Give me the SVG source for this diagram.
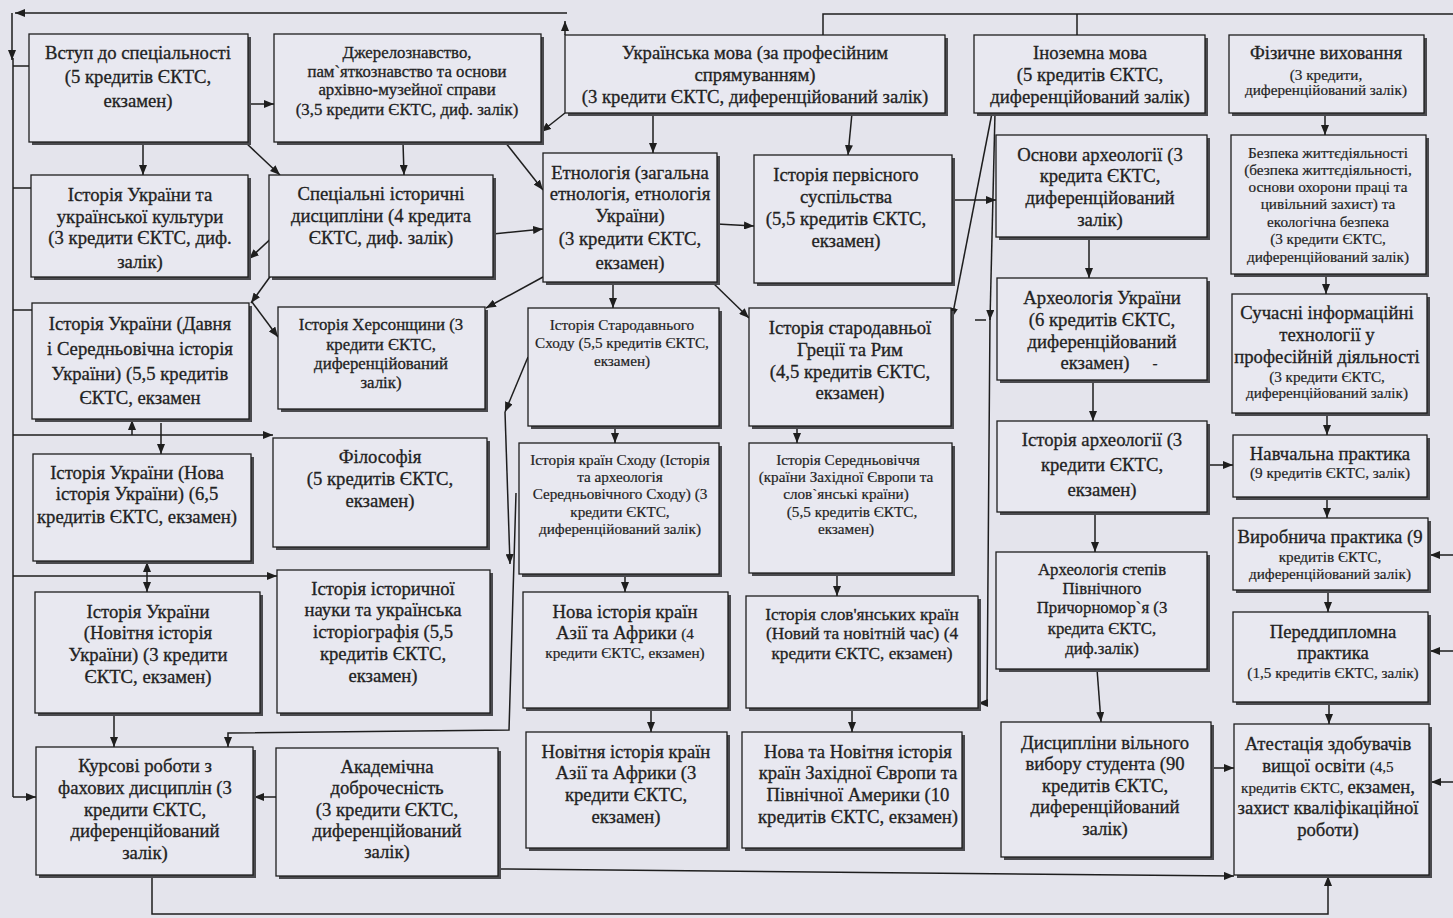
<svg xmlns="http://www.w3.org/2000/svg" width="1453" height="918" viewBox="0 0 1453 918">
<style>
.bg{fill:#e4e4ec}
.sh{fill:#4a4a4e}
.bx{fill:#e8e8f0;stroke:#1e1e1e;stroke-width:1.3}
text{font-family:"Liberation Serif","Times New Roman",serif;fill:#222;stroke:#222;stroke-width:0.3;text-anchor:middle}
.L{font-size:18.7px}
.M{font-size:16.8px}
.M2{font-size:17.3px}
.S{font-size:15.2px;stroke-width:0.2}
.c{fill:none;stroke:#1e1e1e;stroke-width:1.5}
</style>
<defs>
<marker id="a" markerUnits="userSpaceOnUse" markerWidth="10" markerHeight="8" refX="10" refY="4" orient="auto"><path d="M0,0 L10,4 L0,8 z" fill="#1e1e1e"/></marker>
<marker id="as" markerUnits="userSpaceOnUse" markerWidth="10" markerHeight="8" refX="0" refY="4" orient="auto"><path d="M10,0 L0,4 L10,8 z" fill="#1e1e1e"/></marker>
</defs>
<rect class="bg" x="0" y="0" width="1453" height="918"/>

<g id="connectors">
<path class="c" d="M565,35 L565,21" marker-end="url(#a)"/>
<path class="c" d="M567,13 L15,13" marker-end="url(#a)"/>
<path class="c" d="M12,13 L12,60" marker-end="url(#a)"/>
<path class="c" d="M13,58 L13,797"/>
<path class="c" d="M13,66 L29,66"/>
<path class="c" d="M13,188 L31,188"/>
<path class="c" d="M13,310 L32,310"/>
<path class="c" d="M13,435 L273,435" marker-end="url(#a)"/>
<path class="c" d="M13,576 L277,576" marker-end="url(#a)"/>
<path class="c" d="M13,797 L36,797" marker-end="url(#a)"/>
<path class="c" d="M132,435 L132,420" marker-end="url(#a)"/>
<path class="c" d="M161,423 L161,454" marker-end="url(#a)"/>
<path class="c" d="M147,562 L147,592" marker-start="url(#as)" marker-end="url(#a)"/>
<path class="c" d="M248,104 L274,104" marker-end="url(#a)"/>
<path class="c" d="M143,142 L143,175" marker-end="url(#a)"/>
<path class="c" d="M245,142 L280,175" marker-end="url(#a)"/>
<path class="c" d="M408,114 L408,132" marker-end="url(#a)"/>
<path class="c" d="M403,142 L404,175" marker-end="url(#a)"/>
<path class="c" d="M277,233 L249,259" marker-end="url(#a)"/>
<path class="c" d="M272,274 L251,303" marker-end="url(#a)"/>
<path class="c" d="M252,302 L278,337" marker-end="url(#a)"/>
<path class="c" d="M565,113 L541,132" marker-end="url(#a)"/>
<path class="c" d="M505,142 L543,190" marker-end="url(#a)"/>
<path class="c" d="M493,234 L543,229" marker-end="url(#a)"/>
<path class="c" d="M653,113 L653,153" marker-end="url(#a)"/>
<path class="c" d="M852,113 L848,155" marker-end="url(#a)"/>
<path class="c" d="M717,224 L754,226" marker-end="url(#a)"/>
<path class="c" d="M543,277 L486,308" marker-end="url(#a)"/>
<path class="c" d="M613,282 L613,308" marker-end="url(#a)"/>
<path class="c" d="M712,282 L749,318" marker-end="url(#a)"/>
<path class="c" d="M952,200 L996,200" marker-end="url(#a)"/>
<path class="c" d="M992,113 L952,318" marker-end="url(#a)"/>
<path class="c" d="M995,113 L990,320" marker-end="url(#a)"/>
<path class="c" d="M975,320 L986,320"/>
<path class="c" d="M990,318 L987,703 L978,703" marker-end="url(#a)"/>
<path class="c" d="M615,426 L615,443" marker-end="url(#a)"/>
<path class="c" d="M625,574 L625,592" marker-end="url(#a)"/>
<path class="c" d="M651,708 L651,732" marker-end="url(#a)"/>
<path class="c" d="M797,424 L797,443" marker-end="url(#a)"/>
<path class="c" d="M837,573 L837,596" marker-end="url(#a)"/>
<path class="c" d="M852,708 L852,732" marker-end="url(#a)"/>
<path class="c" d="M528,357 L505,412" marker-end="url(#a)"/>
<path class="c" d="M505,412 L510,564" marker-end="url(#a)"/>
<path class="c" d="M516,493 L509,730 L228,733 L228,747" marker-end="url(#a)"/>
<path class="c" d="M1089,237 L1089,278" marker-end="url(#a)"/>
<path class="c" d="M1093,380 L1093,421" marker-end="url(#a)"/>
<path class="c" d="M1095,512 L1095,552" marker-end="url(#a)"/>
<path class="c" d="M1097,669 L1101,722" marker-end="url(#a)"/>
<path class="c" d="M1207,465 L1233,465" marker-end="url(#a)"/>
<path class="c" d="M1211,768 L1234,768" marker-end="url(#a)"/>
<path class="c" d="M1325,113 L1325,135" marker-end="url(#a)"/>
<path class="c" d="M1326,274 L1326,294" marker-end="url(#a)"/>
<path class="c" d="M1327,413 L1327,435" marker-end="url(#a)"/>
<path class="c" d="M1327,497 L1327,518" marker-end="url(#a)"/>
<path class="c" d="M1328,590 L1328,612" marker-end="url(#a)"/>
<path class="c" d="M1329,702 L1329,724" marker-end="url(#a)"/>
<path class="c" d="M1453,555 L1430,555" marker-end="url(#a)"/>
<path class="c" d="M1453,651 L1430,651" marker-end="url(#a)"/>
<path class="c" d="M1453,782 L1431,782" marker-end="url(#a)"/>
<path class="c" d="M823,35 L823,14 L1453,14"/>
<path class="c" d="M1077,14 L1077,35"/>
<path class="c" d="M498,869 L1234,876" marker-end="url(#a)"/>
<path class="c" d="M152,875 L152,914 L1328,914 L1328,876" marker-end="url(#a)"/>
<path class="c" d="M114,713 L114,747" marker-end="url(#a)"/>
<path class="c" d="M276,797 L254,797" marker-end="url(#a)"/>
</g>

<g id="n-vstup"><rect class="sh" x="32" y="37" width="219" height="108"/><rect class="bx" x="29" y="34" width="219" height="108"/>
<text class="L" x="138" y="59">Вступ до спеціальності</text><text class="L" x="138" y="83">(5 кредитів ЄКТС,</text><text class="L" x="138" y="107">екзамен)</text></g>

<g id="n-dzhere"><rect class="sh" x="277" y="37" width="267" height="108"/><rect class="bx" x="274" y="34" width="267" height="108"/>
<text class="M" x="407" y="58">Джерелознавство,</text><text class="M" x="407" y="77">пам`яткознавство та основи</text><text class="M" x="407" y="95">архівно-музейної справи</text><text class="M" x="407" y="115">(3,5 кредити ЄКТС, диф. залік)</text></g>

<g id="n-ukrmova"><rect class="sh" x="568" y="38" width="380" height="78"/><rect class="bx" x="565" y="35" width="380" height="78"/>
<text class="L" x="755" y="59">Українська мова (за професійним</text><text class="L" x="755" y="81">спрямуванням)</text><text class="L" x="755" y="103">(3 кредити ЄКТС, диференційований залік)</text></g>

<g id="n-inozem"><rect class="sh" x="977" y="38" width="231" height="78"/><rect class="bx" x="974" y="35" width="231" height="78"/>
<text class="L" x="1090" y="59">Іноземна мова</text><text class="L" x="1090" y="81">(5 кредитів ЄКТС,</text><text class="L" x="1090" y="103">диференційований залік)</text></g>

<g id="n-fiz"><rect class="sh" x="1232" y="38" width="195" height="78"/><rect class="bx" x="1229" y="35" width="195" height="78"/>
<text class="L" x="1326" y="59">Фізичне виховання</text><text class="S" x="1326" y="80">(3 кредити,</text><text class="S" x="1326" y="95">диференційований залік)</text></g>

<g id="n-iukk"><rect class="sh" x="34" y="178" width="217" height="102"/><rect class="bx" x="31" y="175" width="217" height="102"/>
<text class="L" x="140" y="201">Історія України та</text><text class="L" x="140" y="223">української культури</text><text class="L" x="140" y="244">(3 кредити ЄКТС, диф.</text><text class="L" x="140" y="268">залік)</text></g>

<g id="n-spec"><rect class="sh" x="272" y="178" width="224" height="102"/><rect class="bx" x="269" y="175" width="224" height="102"/>
<text class="L" x="381" y="200">Спеціальні історичні</text><text class="L" x="381" y="222">дисципліни (4 кредита</text><text class="L" x="381" y="244">ЄКТС, диф. залік)</text></g>

<g id="n-etno"><rect class="sh" x="546" y="156" width="174" height="129"/><rect class="bx" x="543" y="153" width="174" height="129"/>
<text class="L" x="630" y="179">Етнологія (загальна</text><text class="L" x="630" y="200">етнологія, етнологія</text><text class="L" x="630" y="222">України)</text><text class="L" x="630" y="245">(3 кредити ЄКТС,</text><text class="L" x="630" y="269">екзамен)</text></g>

<g id="n-perv"><rect class="sh" x="757" y="158" width="198" height="128"/><rect class="bx" x="754" y="155" width="198" height="128"/>
<text class="L" x="846" y="181">Історія первісного</text><text class="L" x="846" y="203">суспільства</text><text class="L" x="846" y="225">(5,5 кредитів ЄКТС,</text><text class="L" x="846" y="247">екзамен)</text></g>

<g id="n-osnarh"><rect class="sh" x="999" y="138" width="211" height="102"/><rect class="bx" x="996" y="135" width="211" height="102"/>
<text class="L" x="1100" y="161">Основи археології (3</text><text class="L" x="1100" y="182">кредита ЄКТС,</text><text class="L" x="1100" y="204">диференційований</text><text class="L" x="1100" y="226">залік)</text></g>

<g id="n-bezp"><rect class="sh" x="1234" y="138" width="195" height="139"/><rect class="bx" x="1231" y="135" width="195" height="139"/>
<text class="S" x="1328" y="158">Безпека життєдіяльності</text><text class="S" x="1328" y="175">(безпека життєдіяльності,</text><text class="S" x="1328" y="192">основи охорони праці та</text><text class="S" x="1328" y="209">цивільний захист) та</text><text class="S" x="1328" y="227">екологічна безпека</text><text class="S" x="1328" y="244">(3 кредити ЄКТС,</text><text class="S" x="1328" y="262">диференційований залік)</text></g>

<g id="n-davnia"><rect class="sh" x="35" y="306" width="217" height="116"/><rect class="bx" x="32" y="303" width="217" height="116"/>
<text class="L" x="140" y="330">Історія України (Давня</text><text class="L" x="140" y="355">і Середньовічна історія</text><text class="L" x="140" y="380">України)  (5,5 кредитів</text><text class="L" x="140" y="404">ЄКТС, екзамен</text></g>

<g id="n-kherson"><rect class="sh" x="281" y="310" width="207" height="102"/><rect class="bx" x="278" y="307" width="207" height="102"/>
<text class="M" x="381" y="330">Історія Херсонщини (3</text><text class="M" x="381" y="350">кредити ЄКТС,</text><text class="M" x="381" y="369">диференційований</text><text class="M" x="381" y="388">залік)</text></g>

<g id="n-starsh"><rect class="sh" x="531" y="311" width="191" height="118"/><rect class="bx" x="528" y="308" width="191" height="118"/>
<text class="S" x="622" y="330">Історія Стародавнього</text><text class="S" x="622" y="348">Сходу (5,5 кредитів ЄКТС,</text><text class="S" x="622" y="366">екзамен)</text></g>

<g id="n-grec"><rect class="sh" x="752" y="311" width="202" height="118"/><rect class="bx" x="749" y="308" width="202" height="118"/>
<text class="L" x="850" y="334">Історія стародавньої</text><text class="L" x="850" y="356">Греції та Рим</text><text class="L" x="850" y="378">(4,5 кредитів ЄКТС,</text><text class="L" x="850" y="399">екзамен)</text></g>

<g id="n-arhukr"><rect class="sh" x="1000" y="281" width="210" height="102"/><rect class="bx" x="997" y="278" width="210" height="102"/>
<text class="L" x="1102" y="304">Археологія України</text><text class="L" x="1102" y="326">(6 кредитів ЄКТС,</text><text class="L" x="1102" y="348">диференційований</text><text class="L" x="1095" y="369">екзамен)</text><text class="S" x="1155" y="368">-</text></g>

<g id="n-suchas"><rect class="sh" x="1235" y="297" width="195" height="119"/><rect class="bx" x="1232" y="294" width="195" height="119"/>
<text class="L" x="1327" y="319">Сучасні інформаційні</text><text class="L" x="1327" y="341">технології у</text><text class="L" x="1327" y="363">професійній діяльності</text><text class="S" x="1327" y="382">(3 кредити ЄКТС,</text><text class="S" x="1327" y="398">диференційований залік)</text></g>

<g id="n-nova"><rect class="sh" x="36" y="457" width="218" height="107"/><rect class="bx" x="33" y="454" width="218" height="107"/>
<text class="L" x="137" y="479">Історія України (Нова</text><text class="L" x="137" y="500">історія України) (6,5</text><text class="L" x="137" y="523">кредитів ЄКТС, екзамен)</text></g>

<g id="n-filos"><rect class="sh" x="276" y="441" width="214" height="109"/><rect class="bx" x="273" y="438" width="214" height="109"/>
<text class="L" x="380" y="463">Філософія</text><text class="L" x="380" y="485">(5 кредитів ЄКТС,</text><text class="L" x="380" y="507">екзамен)</text></g>

<g id="n-krsh"><rect class="sh" x="522" y="446" width="200" height="131"/><rect class="bx" x="519" y="443" width="200" height="131"/>
<text class="S" x="620" y="465">Історія країн Сходу (Історія</text><text class="S" x="620" y="482">та археологія</text><text class="S" x="620" y="499">Середньовічного Сходу) (3</text><text class="S" x="620" y="517">кредити ЄКТС,</text><text class="S" x="620" y="534">диференційований залік)</text></g>

<g id="n-sered"><rect class="sh" x="752" y="446" width="203" height="130"/><rect class="bx" x="749" y="443" width="203" height="130"/>
<text class="S" x="848" y="465">Історія Середньовіччя</text><text class="S" x="846" y="482">(країни Західної Європи та</text><text class="S" x="846" y="499">слов`янські країни)</text><text class="S" x="852" y="517">(5,5 кредитів ЄКТС,</text><text class="S" x="846" y="534">екзамен)</text></g>

<g id="n-istarh"><rect class="sh" x="1000" y="424" width="210" height="91"/><rect class="bx" x="997" y="421" width="210" height="91"/>
<text class="L" x="1102" y="446">Історія археології (3</text><text class="L" x="1102" y="471">кредити ЄКТС,</text><text class="L" x="1102" y="496">екзамен)</text></g>

<g id="n-navch"><rect class="sh" x="1236" y="438" width="194" height="62"/><rect class="bx" x="1233" y="435" width="194" height="62"/>
<text class="L" x="1330" y="460">Навчальна практика</text><text class="S" x="1330" y="478">(9 кредитів ЄКТС, залік)</text></g>

<g id="n-vyrob"><rect class="sh" x="1236" y="521" width="195" height="72"/><rect class="bx" x="1233" y="518" width="195" height="72"/>
<text class="L" x="1330" y="543">Виробнича практика (9</text><text class="S" x="1330" y="562">кредитів ЄКТС,</text><text class="S" x="1330" y="579">диференційований залік)</text></g>

<g id="n-novit"><rect class="sh" x="38" y="595" width="225" height="121"/><rect class="bx" x="35" y="592" width="225" height="121"/>
<text class="L" x="148" y="618">Історія України</text><text class="L" x="148" y="639">(Новітня історія</text><text class="L" x="148" y="661">України) (3 кредити</text><text class="L" x="148" y="683">ЄКТС, екзамен)</text></g>

<g id="n-istnauk"><rect class="sh" x="280" y="573" width="213" height="143"/><rect class="bx" x="277" y="570" width="213" height="143"/>
<text class="L" x="383" y="595">Історія історичної</text><text class="L" x="383" y="616">науки та українська</text><text class="L" x="383" y="638">історіографія (5,5</text><text class="L" x="383" y="660">кредитів ЄКТС,</text><text class="L" x="383" y="682">екзамен)</text></g>

<g id="n-novaaz"><rect class="sh" x="526" y="595" width="205" height="116"/><rect class="bx" x="523" y="592" width="205" height="116"/>
<text class="L" x="625" y="618">Нова історія країн</text><text class="L" x="625" y="639">Азії та Африки <tspan class="S">(4</tspan></text><text class="S" x="625" y="658">кредити ЄКТС, екзамен)</text></g>

<g id="n-slov"><rect class="sh" x="749" y="599" width="232" height="112"/><rect class="bx" x="746" y="596" width="232" height="112"/>
<text class="M2" x="862" y="620">Історія слов'янських  країн</text><text class="M2" x="862" y="639">(Новий та новітній час) (4</text><text class="M2" x="862" y="659">кредити ЄКТС, екзамен)</text></g>

<g id="n-stepiv"><rect class="sh" x="999" y="555" width="211" height="117"/><rect class="bx" x="996" y="552" width="211" height="117"/>
<text class="M" x="1102" y="575">Археологія степів</text><text class="M" x="1102" y="594">Північного</text><text class="M" x="1102" y="613">Причорномор`я (3</text><text class="M" x="1102" y="634">кредита ЄКТС,</text><text class="M" x="1102" y="654">диф.залік)</text></g>

<g id="n-peredd"><rect class="sh" x="1236" y="615" width="195" height="90"/><rect class="bx" x="1233" y="612" width="195" height="90"/>
<text class="L" x="1333" y="638">Переддипломна</text><text class="L" x="1333" y="659">практика</text><text class="S" x="1333" y="678">(1,5 кредитів ЄКТС, залік)</text></g>

<g id="n-kursovi"><rect class="sh" x="39" y="750" width="217" height="128"/><rect class="bx" x="36" y="747" width="217" height="128"/>
<text class="L" x="145" y="772">Курсові роботи з</text><text class="L" x="145" y="794">фахових дисциплін (3</text><text class="L" x="145" y="816">кредити ЄКТС,</text><text class="L" x="145" y="837">диференційований</text><text class="L" x="145" y="859">залік)</text></g>

<g id="n-akad"><rect class="sh" x="279" y="751" width="222" height="128"/><rect class="bx" x="276" y="748" width="222" height="128"/>
<text class="L" x="387" y="773">Академічна</text><text class="L" x="387" y="794">доброчесність</text><text class="L" x="387" y="816">(3 кредити ЄКТС,</text><text class="L" x="387" y="837">диференційований</text><text class="L" x="387" y="858">залік)</text></g>

<g id="n-novitaz"><rect class="sh" x="529" y="735" width="201" height="116"/><rect class="bx" x="526" y="732" width="201" height="116"/>
<text class="L" x="626" y="758">Новітня історія країн</text><text class="L" x="626" y="779">Азії та Африки (3</text><text class="L" x="626" y="801">кредити ЄКТС,</text><text class="L" x="626" y="823">екзамен)</text></g>

<g id="n-zakhev"><rect class="sh" x="745" y="735" width="220" height="116"/><rect class="bx" x="742" y="732" width="220" height="116"/>
<text class="L" x="858" y="758">Нова та Новітня  історія</text><text class="L" x="858" y="779">країн Західної Європи та</text><text class="L" x="858" y="801">Північної Америки (10</text><text class="L" x="858" y="823">кредитів ЄКТС, екзамен)</text></g>

<g id="n-vilny"><rect class="sh" x="1004" y="725" width="210" height="135"/><rect class="bx" x="1001" y="722" width="210" height="135"/>
<text class="L" x="1105" y="749">Дисципліни вільного</text><text class="L" x="1105" y="770">вибору студента (90</text><text class="L" x="1105" y="792">кредитів ЄКТС,</text><text class="L" x="1105" y="813">диференційований</text><text class="L" x="1105" y="835">залік)</text></g>

<g id="n-atest"><rect class="sh" x="1237" y="727" width="195" height="151"/><rect class="bx" x="1234" y="724" width="195" height="151"/>
<text class="L" x="1328" y="750">Атестація здобувачів</text><text class="L" x="1328" y="772">вищої освіти <tspan class="S">(4,5</tspan></text><text class="L" x="1328" y="793"><tspan class="S">кредитів ЄКТС, </tspan>екзамен,</text><text class="L" x="1328" y="814">захист кваліфікаційної</text><text class="L" x="1328" y="836">роботи)</text></g>
</svg>
